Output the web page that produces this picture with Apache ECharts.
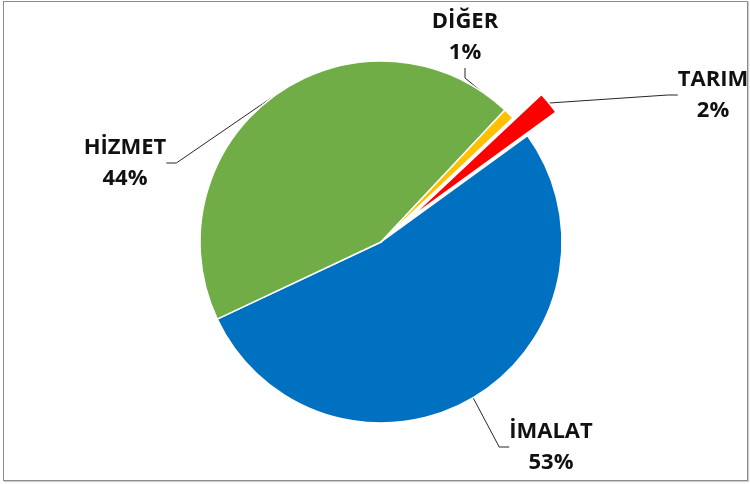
<!DOCTYPE html>
<html>
<head>
    <meta charset="utf-8">
    <title>ECharts</title>
    <script src="https://cdn.jsdelivr.net/npm/echarts@6/dist/echarts.min.js"></script>
    <style>
        body { margin: 0; background: #fff; }
        #frame {
            position: absolute; left: 3px; top: 1px;
            width: 743px; height: 478px;
            border: 1px solid #8c8c8c;
            box-shadow: 1px 1px 1px #cfcfcf;
        }
        #main { position: absolute; left: 0; top: 0; width: 750px; height: 484px; }
    </style>
</head>
<body>
    <div id="frame"></div>
    <div id="main"></div>
    <script>
        // sektör payları (%)
        var sectors = ['İMALAT', 'HİZMET', 'DİĞER', 'TARIM'];
        var shares = [53, 44, 1, 2];
        var colors = ['#0070c0', '#70ad47', '#ffc000', '#ff0000'];
        var exploded = 'TARIM';

        // etiket konumları (piksel)
        var labelPos = [[551, 447], [125, 163], [465, 37], [713, 95]];

        var chartDom = document.getElementById('main');
        var myChart = echarts.init(chartDom);
        var option;

        var cx = 381, cy = 242, R = 181, startAngle = 36, offset = 37;

        // dilimin orta açısı (ayrık dilimin kaydırılması için)
        var total = shares.reduce(function (a, b) { return a + b; }, 0);
        var acc = 0, midDeg = 0;
        sectors.forEach(function (n, i) {
            if (n === exploded) midDeg = startAngle - (acc + shares[i] / 2) / total * 360;
            acc += shares[i];
        });
        var mid = midDeg * Math.PI / 180;
        var cx2 = cx + offset * Math.cos(mid), cy2 = cy - offset * Math.sin(mid);

        function buildData(visible) {
            return sectors.map(function (name, i) {
                var on = visible(name);
                return {
                    name: name,
                    value: shares[i],
                    itemStyle: on ? { color: colors[i] } : { color: 'transparent', borderWidth: 0 },
                    label: { show: on },
                    labelLine: { show: on }
                };
            });
        }

        var common = {
            type: 'pie',
            radius: [0, R],
            startAngle: startAngle,
            clockwise: true,
            silent: true,
            itemStyle: { borderColor: '#fff', borderWidth: 1.5 },
            label: {
                position: 'outside',
                formatter: '{b}\n{d}%',
                color: '#111',
                fontFamily: 'Open Sans',
                fontWeight: 'bold',
                fontSize: 22,
                lineHeight: 31,
                align: 'center'
            },
            labelLine: {
                length: 20,
                length2: 10,
                lineStyle: { color: '#262626', width: 1 }
            },
            labelLayout: function (params) {
                var p = labelPos[params.dataIndex];
                return { x: p[0], y: p[1], align: 'center', verticalAlign: 'middle' };
            },
            emphasis: { disabled: true }
        };

        option = {
            animation: false,
            series: [
                Object.assign({}, common, {
                    center: [cx, cy],
                    data: buildData(function (n) { return n !== exploded; })
                }),
                Object.assign({}, common, {
                    center: [cx2, cy2],
                    data: buildData(function (n) { return n === exploded; })
                })
            ]
        };

        option && myChart.setOption(option);
    </script>
</body>
</html>
